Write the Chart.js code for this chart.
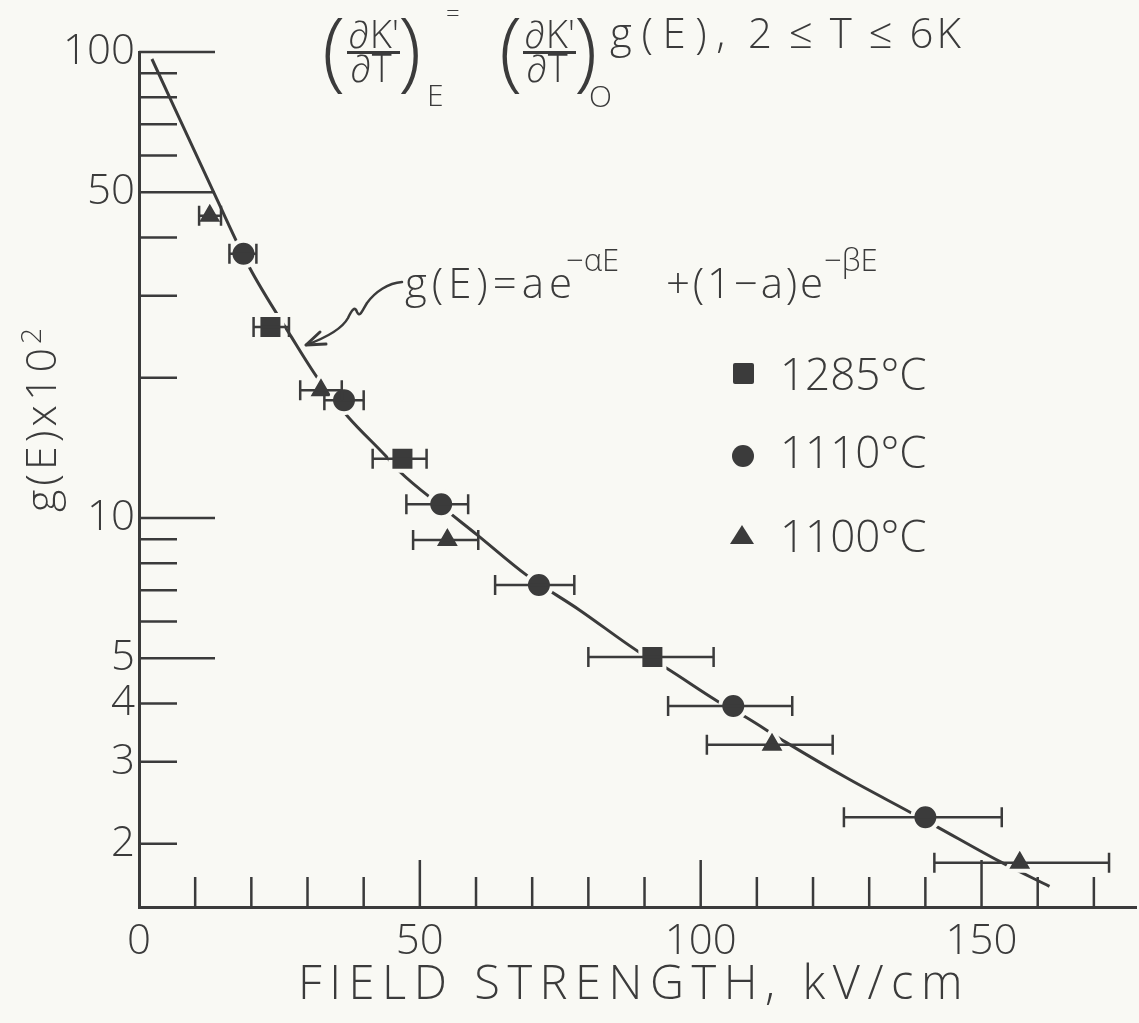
<!DOCTYPE html>
<html>
<head>
<meta charset="utf-8">
<script src="https://cdn.jsdelivr.net/npm/chart.js@4.4.1/dist/chart.umd.min.js"></script>
<style>
  html, body { margin: 0; padding: 0; background: #f9f9f4; }
  #wrap {
    position: relative; width: 1139px; height: 1023px; overflow: hidden;
    font-family: "Open Sans", sans-serif; font-weight: 300; color: #3b3b3b;
  }
  #chart { position: absolute; left: 0; top: 0; }
  .t { position: absolute; line-height: 1; white-space: nowrap; }
  .bar { position: absolute; height: 3px; background: #3b3b3b; }
  #arrow { position: absolute; left: 0; top: 0; }
</style>
</head>
<body>
<div id="wrap">
  <canvas id="chart" width="1139" height="1023"></canvas>
  <svg id="arrow" width="1139" height="1023">
    <path d="M402,282 C388,283 375,292 367,303 C362,311 360,318 357,312 C355,306 352,309 348,318 C342,329 328,337 306,345"
          fill="none" stroke="#3b3b3b" stroke-width="2.5" stroke-linecap="round"/>
    <path d="M320,332 L306,345 L326,344" fill="none" stroke="#3b3b3b" stroke-width="3" stroke-linecap="round" stroke-linejoin="round"/>
  </svg>
  <div id="notes"></div>
</div>
<script>
// Werte (E in kV/cm, g(E) x 10^2)
const seriesNames = ["1285°C", "1110°C", "1100°C"];

const squareE = [23.4, 46.9, 91.4];
const squareG = [25.7, 13.4, 5.03];
const squareLo = [20.4, 41.6, 80.0];
const squareHi = [26.7, 51.2, 102.3];

const circleE = [18.6, 36.5, 53.8, 71.2, 105.8, 140.0];
const circleG = [36.9, 17.9, 10.7, 7.18, 3.95, 2.28];
const circleLo = [16.1, 33.0, 47.6, 63.4, 94.2, 125.5];
const circleHi = [20.9, 40.0, 58.6, 77.5, 116.3, 153.6];

const triangleE = [12.6, 32.4, 54.9, 112.7, 156.8];
const triangleG = [44.5, 18.8, 8.97, 3.26, 1.82];
const triangleLo = [10.7, 28.7, 48.8, 101.1, 141.6];
const triangleHi = [14.6, 36.1, 60.4, 123.5, 172.7];

// angepasste Kurve g(E)
const fitE = [2.3, 13.8, 19.6, 27.1, 32.0, 37.2, 43.9, 46.5, 53.8, 60.2, 69.0, 78.4, 89.0, 93.8, 103.2, 108.0, 115.2, 126.2, 137.2, 141.6, 153.3, 162.1];
const fitG = [96.6, 48.5, 34.6, 24.5, 19.8, 16.5, 13.6, 12.55, 10.6, 9.2, 7.54, 6.35, 5.16, 4.77, 4.03, 3.74, 3.30, 2.76, 2.34, 2.19, 1.83, 1.62];

const xTickLabels = [0, 50, 100, 150];
const xTickMarks = [10, 20, 30, 40, 50, 60, 70, 80, 90, 100, 110, 120, 130, 140, 150, 160, 170];
const xLongMarks = [50, 100, 150];
const yTickLabels = [100, 50, 10, 5, 4, 3, 2];
const yTickMarks = [100, 90, 80, 70, 60, 50, 40, 30, 20, 10, 9, 8, 7, 6, 5, 4, 3, 2];
const yLongMarks = [100, 50, 10, 5];

const INK = "#3b3b3b";
const PAPER = "#f9f9f4";

function toPoints(xs, ys) {
  return xs.map((x, i) => ({ x: x, y: ys[i] }));
}

// Striche nach innen, wie in der Vorlage
const innerTicks = {
  id: "innerTicks",
  beforeDatasetsDraw(chart) {
    const ctx = chart.ctx;
    const xs = chart.scales.x;
    const ys = chart.scales.y;
    const area = chart.chartArea;
    ctx.save();
    ctx.strokeStyle = INK;
    ctx.lineWidth = 2.5;
    ctx.beginPath();
    xTickMarks.forEach((v) => {
      const px = xs.getPixelForValue(v);
      const len = xLongMarks.includes(v) ? 47 : 30;
      ctx.moveTo(px, area.bottom);
      ctx.lineTo(px, area.bottom - len);
    });
    yTickMarks.forEach((v) => {
      const py = ys.getPixelForValue(v);
      const len = yLongMarks.includes(v) ? 76 : 38;
      ctx.moveTo(area.left, py);
      ctx.lineTo(area.left + len, py);
    });
    ctx.stroke();
    ctx.restore();
  },
};

const errorBars = {
  id: "errorBars",
  afterDatasetsDraw(chart) {
    const ctx = chart.ctx;
    const xs = chart.scales.x;
    const ys = chart.scales.y;
    ctx.save();
    ctx.strokeStyle = INK;
    ctx.lineWidth = 2.5;
    chart.data.datasets.forEach((ds) => {
      if (!ds.errLo) return;
      ds.data.forEach((p, i) => {
        const y = ys.getPixelForValue(p.y);
        const x1 = xs.getPixelForValue(ds.errLo[i]);
        const x2 = xs.getPixelForValue(ds.errHi[i]);
        ctx.beginPath();
        ctx.moveTo(x1, y);
        ctx.lineTo(x2, y);
        ctx.moveTo(x1, y - 10);
        ctx.lineTo(x1, y + 10);
        ctx.moveTo(x2, y - 10);
        ctx.lineTo(x2, y + 10);
        ctx.stroke();
      });
    });
    ctx.restore();
  },
};

function markerSet(label, style, radius, xs, ys, lo, hi) {
  return {
    label: label,
    data: toPoints(xs, ys),
    pointStyle: style,
    pointRadius: radius,
    backgroundColor: INK,
    borderColor: PAPER,
    borderWidth: 4,
    showLine: false,
    errLo: lo,
    errHi: hi,
    order: 1,
  };
}

const tickFont = { family: "'Open Sans', sans-serif", size: 42, weight: 300 };

new Chart(document.getElementById("chart"), {
  type: "scatter",
  data: {
    datasets: [
      {
        label: "g(E)",
        data: toPoints(fitE, fitG),
        showLine: true,
        borderColor: INK,
        borderWidth: 3,
        pointRadius: 0,
        cubicInterpolationMode: "monotone",
        order: 5,
      },
      markerSet(seriesNames[0], "rect", 17, squareE, squareG, squareLo, squareHi),
      markerSet(seriesNames[1], "circle", 13, circleE, circleG, circleLo, circleHi),
      markerSet(seriesNames[2], "triangle", 16, triangleE, triangleG, triangleLo, triangleHi),
    ],
  },
  options: {
    responsive: false,
    animation: false,
    events: [],
    layout: { autoPadding: false, padding: { top: 52, right: 3, left: 0, bottom: 0 } },
    plugins: { legend: { display: false }, tooltip: { enabled: false } },
    scales: {
      x: {
        type: "linear",
        min: 0,
        max: 177.5,
        grid: { display: false, drawTicks: false },
        border: { display: true, color: INK, width: 3 },
        afterBuildTicks: (scale) => {
          scale.ticks = xTickLabels.map((v) => ({ value: v }));
        },
        afterFit: (scale) => {
          scale.height = 116;
        },
        ticks: {
          color: INK,
          font: tickFont,
          padding: 10,
          maxRotation: 0,
          callback: (v) => String(v),
        },
      },
      y: {
        type: "logarithmic",
        min: 1.463,
        max: 100,
        grid: { display: false, drawTicks: false },
        border: { display: true, color: INK, width: 3 },
        afterBuildTicks: (scale) => {
          scale.ticks = yTickLabels.map((v) => ({ value: v }));
        },
        afterFit: (scale) => {
          scale.width = 139;
        },
        ticks: {
          color: INK,
          font: tickFont,
          padding: 4,
          callback: (v) => String(v),
        },
      },
    },
  },
  plugins: [innerTicks, errorBars],
});

// Texte als HTML über dem Diagramm
const notes = document.getElementById("notes");

function put(text, x, base, size) {
  const s = document.createElement("span");
  s.className = "t";
  s.textContent = text;
  s.style.left = x + "px";
  s.style.top = base - 0.888 * size + "px";
  s.style.fontSize = size + "px";
  notes.appendChild(s);
  return s;
}

function bar(x, y, w) {
  const d = document.createElement("div");
  d.className = "bar";
  d.style.left = x + "px";
  d.style.top = y + "px";
  d.style.width = w + "px";
  notes.appendChild(d);
}

function fitWidth(el, target) {
  const n = el.textContent.length;
  const w = el.getBoundingClientRect().width;
  el.style.letterSpacing = (target - w) / n + "px";
}

// Formel oben
put("(", 322, 80, 86);
put("\u2202K'", 348, 48, 38);
bar(347, 51, 53);
put("\u2202T", 350, 82, 38);
put(")", 398, 80, 86);
put("E", 427, 107, 30);
put("=", 446, 22, 24);
put("(", 499, 80, 86);
put("\u2202K'", 524, 48, 38);
bar(523, 51, 53);
put("\u2202T", 526, 82, 38);
put(")", 574, 80, 86);
put("O", 589, 108, 30);
fitWidth(put("g(E),", 610, 48, 42), 125);
fitWidth(put("2 \u2264 T \u2264 6K", 748, 48, 42), 216);

// Kurvengleichung
fitWidth(put("g(E)=ae", 405, 298, 42), 172);
put("\u2212\u03b1E", 566, 272, 31);
fitWidth(put("+(1\u2212a)e", 666, 298, 42), 160);
put("\u2212\u03b2E", 824, 272, 31);

// Legende
const legendRows = [
  { base: 390, top: 363, shape: "square" },
  { base: 468, top: 445, shape: "circle" },
  { base: 552, top: 525, shape: "triangle" },
];
legendRows.forEach((row, i) => {
  put(seriesNames[i], 780, row.base, 44);
  const m = document.createElement("div");
  m.style.position = "absolute";
  if (row.shape === "square") {
    m.style.cssText += "left:733px;top:" + row.top + "px;width:21px;height:21px;background:" + INK + ";border-radius:2px;";
  } else if (row.shape === "circle") {
    m.style.cssText += "left:732px;top:" + row.top + "px;width:22px;height:22px;background:" + INK + ";border-radius:50%;";
  } else {
    m.style.cssText += "left:730px;top:" + row.top + "px;width:0;height:0;border-left:12px solid transparent;border-right:12px solid transparent;border-bottom:19px solid " + INK + ";";
  }
  notes.appendChild(m);
});

// Achsentitel
const xTitle = put("FIELD STRENGTH, kV/cm", 298, 1000, 47);
fitWidth(xTitle, 672);

const yTitle = document.createElement("div");
yTitle.className = "t";
yTitle.style.fontSize = "43px";
yTitle.style.letterSpacing = "4px";
yTitle.innerHTML = "g(E)x10<sup style='font-size:28px;vertical-align:15px'>2</sup>";
yTitle.style.left = "38px";
yTitle.style.top = "418px";
yTitle.style.transform = "translate(-50%, -50%) rotate(-90deg)";
notes.appendChild(yTitle);
</script>
</body>
</html>
